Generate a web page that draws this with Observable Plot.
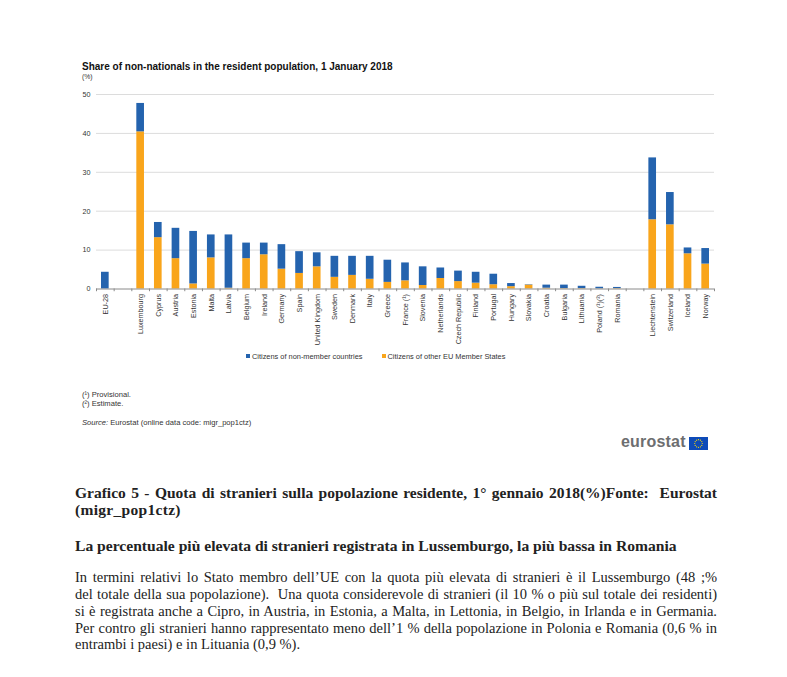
<!DOCTYPE html>
<html>
<head>
<meta charset="utf-8">
<script src="https://cdn.jsdelivr.net/npm/d3@7"></script>
<script src="https://cdn.jsdelivr.net/npm/@observablehq/plot@0.6"></script>
<style>
  html, body { margin: 0; padding: 0; background: #fff; }
  #page { position: relative; width: 787px; height: 677px; overflow: hidden; font-family: "Liberation Sans", Arial, sans-serif; }
  .abs { position: absolute; white-space: nowrap; }
  .sans { font-family: "Liberation Sans", Arial, sans-serif; color: #222; }
  .serif { font-family: "Liberation Serif", "Times New Roman", serif; color: #222; }
  .jl { position: absolute; left: 75px; width: 642px; text-align: justify; text-align-last: justify; white-space: normal; }
  .ll { position: absolute; left: 75px; white-space: nowrap; }
</style>
</head>
<body>
<div id="page">
  <div class="abs sans" style="left:82px; top:61px; font-size:10px; font-weight:bold; color:#111;">Share of non-nationals in the resident population, 1 January 2018</div>
  <div class="abs sans" style="left:82px; top:73px; font-size:6.8px; color:#333;">(%)</div>
  <div id="chart" style="position:absolute; left:70px; top:85px;"></div>
  <div id="legend" class="abs sans" style="left:246px; top:351.5px; font-size:7.4px; color:#333;"></div>
  <div class="abs sans" style="left:82px; top:389.5px; font-size:7.6px; color:#333;">(¹) Provisional.</div>
  <div class="abs sans" style="left:82px; top:399px; font-size:7.6px; color:#333;">(²) Estimate.</div>
  <div class="abs sans" style="left:82px; top:417.5px; font-size:7.6px; color:#333;"><i>Source:</i> Eurostat (online data code: migr_pop1ctz)</div>
  <div class="abs sans" style="left:621px; top:433px; font-size:16px; font-weight:bold; color:#6d6e70; letter-spacing:0.2px;">eurostat</div>
  <svg class="abs" id="flag" style="left:689px; top:437px;" width="19" height="13"></svg>

  <div class="jl serif" style="top:484px; font-size:15.5px; font-weight:bold;">Grafico 5 - Quota di stranieri sulla popolazione residente, 1° gennaio 2018(%)Fonte: &nbsp;Eurostat</div>
  <div class="ll serif" style="top:501px; font-size:15.5px; font-weight:bold; letter-spacing:0.3px;">(migr_pop1ctz)</div>
  <div class="ll serif" style="top:537px; font-size:15.6px; font-weight:bold;">La percentuale più elevata di stranieri registrata in Lussemburgo, la più bassa in Romania</div>

  <div class="jl serif" style="top:569px; font-size:14.5px;">In termini relativi lo Stato membro dell’UE con la quota più elevata di stranieri è il Lussemburgo (48 ;%</div>
  <div class="jl serif" style="top:586px; font-size:14.5px;">del totale della sua popolazione). &nbsp;Una quota considerevole di stranieri (il 10 % o più sul totale dei residenti)</div>
  <div class="jl serif" style="top:603px; font-size:14.5px;">si è registrata anche a Cipro, in Austria, in Estonia, a Malta, in Lettonia, in Belgio, in Irlanda e in Germania.</div>
  <div class="jl serif" style="top:620px; font-size:14.5px;">Per contro gli stranieri hanno rappresentato meno dell’1 % della popolazione in Polonia e Romania (0,6 % in</div>
  <div class="ll serif" style="top:636px; font-size:14.5px;">entrambi i paesi) e in Lituania (0,9 %).</div>
</div>
<script>
// ---- data ----
const countries = ["EU-28","_gap1","Luxembourg","Cyprus","Austria","Estonia","Malta","Latvia","Belgium","Ireland","Germany","Spain","United Kingdom","Sweden","Denmark","Italy","Greece","France (¹)","Slovenia","Netherlands","Czech Republic","Finland","Portugal","Hungary","Slovakia","Croatia","Bulgaria","Lithuania","Poland (¹)(²)","Romania","_gap2","Liechtenstein","Switzerland","Iceland","Norway"];
const otherEU =   [0,   null, 40.4, 13.2, 7.8, 1.3, 8.0, 0.2, 7.8, 8.8, 5.1, 4.0, 5.7, 3.0, 3.5, 2.5, 1.7, 2.1, 0.9, 2.7, 1.9, 1.5, 1.1, 0.6, 1.0, 0.2, 0.1, 0.1, 0.05, 0.1, null, 17.8, 16.5, 9.05, 6.4];
const nonMember = [4.3, null, 7.3,  3.9,  7.8, 13.5, 5.9, 13.7, 4.0, 3.0, 6.3, 5.6, 3.6, 5.4, 4.9, 5.9, 5.7, 4.6, 4.8, 2.7, 2.7, 2.8, 2.7, 0.8, 0.1, 0.8, 0.9, 0.6, 0.4, 0.3, null, 15.9, 8.3, 1.5, 4.0];
const seriesNames = ["Citizens of other EU Member States", "Citizens of non-member countries"];
const seriesColors = ["#f9a51b", "#2463ae"];
const yTicks = [0, 10, 20, 30, 40, 50];

// ---- build table ----
const rows = [];
countries.forEach((c, i) => {
  if (otherEU[i] == null) return;
  rows.push({country: c, series: seriesNames[0], value: otherEU[i]});
  rows.push({country: c, series: seriesNames[1], value: nonMember[i]});
});

const W = 660, ML = 26, MR = 16;
const step = (W - ML - MR) / countries.length;

const chart = Plot.plot({
  width: W, height: 270,
  marginLeft: ML, marginRight: MR, marginTop: 9, marginBottom: 66.5,
  style: {fontFamily: "'Liberation Sans', Arial, sans-serif", fontSize: "7.2px", color: "#333", background: "transparent"},
  x: {domain: countries, padding: 0, round: false, label: null, tickSize: 0, tickPadding: 5, tickRotate: -90,
      tickFormat: d => d.startsWith("_gap") ? "" : d},
  y: {domain: [0, 50], ticks: yTicks, label: null, tickSize: 0, tickPadding: 6},
  color: {domain: seriesNames, range: seriesColors},
  marks: [
    Plot.ruleY(yTicks.filter(t => t > 0), {stroke: "#dcdcdc", strokeWidth: 1}),
    Plot.barY(rows, Plot.stackY({x: "country", y: "value", fill: "series", insetLeft: 5, insetRight: 5, order: seriesNames})),
    Plot.ruleY([0], {stroke: "#8a8a8a", strokeWidth: 1}),
    Plot.ruleX(countries, {x: d => d, y1: 0, y2: -0.7, dx: -step / 2, stroke: "#8a8a8a", clip: false}),
    Plot.ruleX(countries.slice(-1), {x: d => d, y1: 0, y2: -0.7, dx: step / 2, stroke: "#8a8a8a", clip: false})
  ]
});
document.getElementById("chart").appendChild(chart);

// ---- legend ----
const legend = document.getElementById("legend");
[1, 0].forEach((k, j) => {
  const item = document.createElement("span");
  item.style.marginRight = j === 0 ? "19px" : "0";
  item.innerHTML = `<span style="display:inline-block;width:4px;height:4px;background:${seriesColors[k]};margin-right:2px;vertical-align:1px"></span>${seriesNames[k]}`;
  legend.appendChild(item);
});

// ---- EU flag (logo decoration) ----
const flag = d3.select("#flag");
flag.append("rect").attr("width", 19).attr("height", 13).attr("fill", "#0e4bb8");
d3.range(12).forEach(i => {
  const a = i / 12 * 2 * Math.PI;
  flag.append("circle").attr("cx", 9.5 + 3.8 * Math.cos(a)).attr("cy", 6.5 + 3.8 * Math.sin(a)).attr("r", 0.6).attr("fill", "#ffdd00");
});
</script>
</body>
</html>
